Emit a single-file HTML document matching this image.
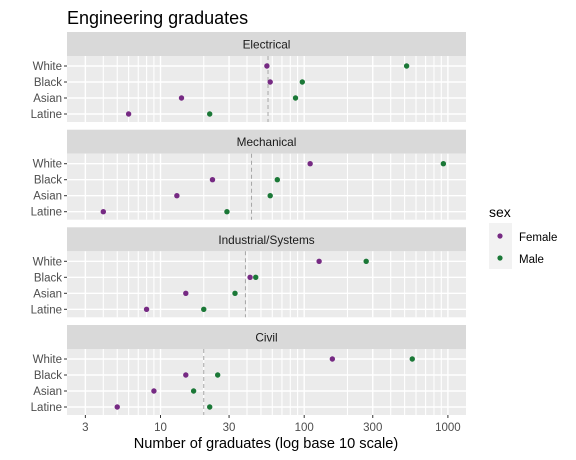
<!DOCTYPE html>
<html><head><meta charset="utf-8"><style>
body{margin:0;background:#fff;}
svg{display:block;font-family:"Liberation Sans",Arial,sans-serif;}
</style></head><body>
<svg id="chart" width="576" height="460">
<text x="67" y="24" font-size="18" fill="#000">Engineering graduates</text>
<g id="panels"></g>
<text x="266" y="448" font-size="14.6" fill="#000" text-anchor="middle">Number of graduates (log base 10 scale)</text>
<g>
<text x="489" y="217" font-size="14" fill="#000">sex</text>
<rect x="489" y="223" width="23" height="46" fill="#f2f2f2"/>
<circle cx="500" cy="236" r="2.6" fill="#762a83"/>
<circle cx="500" cy="258" r="2.6" fill="#1b7837"/>
<text x="519" y="241" font-size="11.5" fill="#000">Female</text>
<text x="519" y="263" font-size="11.5" fill="#000">Male</text>
</g>
</svg>
<script>
const majors = ["Electrical","Mechanical","Industrial/Systems","Civil"];
const races = ["White","Black","Asian","Latine"];
const femaleVals = [[55,58,14,6],[110,23,13,4],[127,42,15,8],[157,15,9,5]];
const maleVals = [[516,97,87,22],[930,65,58,29],[270,46,33,20],[565,25,17,22]];
const medianVals = [56,43,39,20];
const tickVals = [3,10,30,100,300,1000];
const tickLabels = ["3","10","30","100","300","1000"];

const NS="http://www.w3.org/2000/svg";
const L=67,R=466;
function xs(v){return 160.5+(Math.log10(v)-1)*143.7;}
function mk(tag,attrs,parent){const e=document.createElementNS(NS,tag);for(const k in attrs)e.setAttribute(k,attrs[k]);parent.appendChild(e);return e;}
const g=document.getElementById('panels');
const stripTops=[32,129.7,227.3,325];
majors.forEach((m,pi)=>{
  const st=stripTops[pi], pt=st+24, pb=pt+66;
  const strip=mk('rect',{x:L,y:st,width:R-L,height:24,fill:'#d9d9d9'},g);
  
  
  const stl=mk('text',{x:(L+R)/2,y:st+16.5,'font-size':11.8,fill:'#1a1a1a','text-anchor':'middle'},g);
  stl.textContent=m;
  
  
  const bg=mk('rect',{x:L,y:pt,width:R-L,height:66,fill:'#ebebeb'},g);
  
  
  const grid=[];
  for(let e=0;e<=3;e++)for(let k=1;k<=9;k++){const v=k*Math.pow(10,e);const x=xs(v);if(x>=L&&x<=R)grid.push(v);}
  grid.forEach(v=>{const l=mk('line',{x1:xs(v),x2:xs(v),y1:pt,y2:pb,stroke:'#fff','stroke-width':tickVals.includes(v)?1.4:1.1},g);
    
    });
  races.forEach((r,ri)=>{
    const y=pt+10+ri*16;
    const hl=mk('line',{x1:L,x2:R,y1:y,y2:y,stroke:'#fff','stroke-width':1.4},g);
    
    
    const tk=mk('line',{x1:L-3,x2:L,y1:y,y2:y,stroke:'#333','stroke-width':1},g);
    
    
    const lb=mk('text',{x:L-5,y:y+4,'font-size':11.5,fill:'#4d4d4d','text-anchor':'end'},g);
    lb.textContent=r;
    
    
  });
  const med=mk('line',{x1:xs(medianVals[pi]),x2:xs(medianVals[pi]),y1:pt,y2:pb,stroke:'#a6a6a6','stroke-width':1,'stroke-dasharray':'4,3'},g);
  
  
  races.forEach((r,ri)=>{
    const y=pt+10+ri*16;
    const f=mk('circle',{cx:xs(femaleVals[pi][ri]),cy:y,r:2.7,fill:'#762a83'},g);
    
    
    const ml=mk('circle',{cx:xs(maleVals[pi][ri]),cy:y,r:2.7,fill:'#1b7837'},g);
    
    
  });
  if(pi===majors.length-1){
    tickVals.forEach((v,i)=>{
      const t=mk('line',{x1:xs(v),x2:xs(v),y1:pb,y2:pb+3,stroke:'#333','stroke-width':1},g);
      
      
      const tl=mk('text',{x:xs(v),y:pb+16,'font-size':11.5,fill:'#4d4d4d','text-anchor':'middle'},g);
      tl.textContent=tickLabels[i];
      
      
    });
  }
});
</script>
</body></html>
